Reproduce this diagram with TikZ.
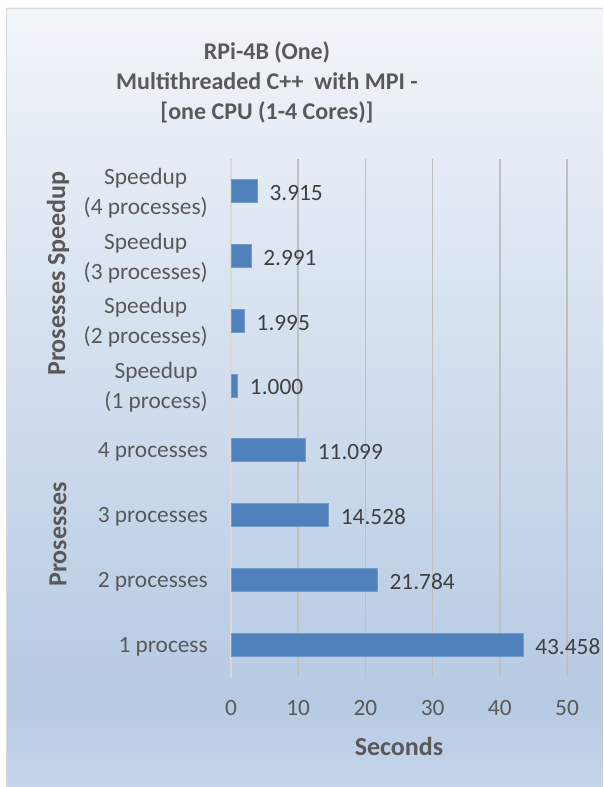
\documentclass[tikz,border=0pt]{standalone}
\usepackage{fontspec}
\setmainfont{Carlito}
\usetikzlibrary{positioning}
\definecolor{chartbar}{HTML}{4F81BD}
\definecolor{chartgrid}{HTML}{BFBFBF}
\definecolor{chartzero}{HTML}{D9D9D9}
\definecolor{chartframe}{HTML}{D9D9D9}
\definecolor{charttext}{HTML}{595959}
\definecolor{chartvalue}{HTML}{404040}
\definecolor{bgtop}{HTML}{F2F5FA}
\definecolor{bgmid}{HTML}{B6CAE3}
\definecolor{bgbot}{HTML}{C5D5EA}
\tikzset{
  catlabel/.style={
    anchor=east,
    inner sep=0pt,
    yshift=-1.5pt,
    align=center,
    text=charttext,
    font=\fontsize{17.5}{22.5}\selectfont
  },
  vallabel/.style={
    anchor=west,
    inner sep=0pt,
    yshift=-1.5pt,
    text=chartvalue,
    font=\fontsize{17.5}{21}\selectfont
  },
  ticklabel/.style={
    inner sep=0pt,
    text=charttext,
    font=\fontsize{17.5}{21}\selectfont
  },
  axistitle/.style={
    inner sep=0pt,
    text=charttext,
    font=\bfseries\fontsize{19.5}{23}\selectfont
  },
  charttitle/.style={
    inner sep=0pt,
    align=center,
    text=charttext,
    font=\bfseries\fontsize{18}{22.5}\selectfont
  },
  gridline/.style={
    draw=chartgrid,
    line width=1.1pt
  },
  barfill/.style={
    fill=chartbar,
    draw=chartbar!80!white,
    line width=0.5pt
  }
}

\begin{document}
\begin{tikzpicture}[x=0.75pt, y=0.75pt]
\useasboundingbox (0,0) rectangle (603,-787);
% chart area
\shade[top color=bgtop, bottom color=bgmid] (6,-8) rectangle (603,-700);
\shade[top color=bgmid, bottom color=bgbot] (6,-700) rectangle (603,-787);
\draw[chartframe, line width=1pt] (6.5,-787) -- (6.5,-8.5) -- (603,-8.5);

\node[charttitle] (title) at (267,-82) {RPi-4B (One)\\Multithreaded C++~ with MPI -\\{[}one CPU (1-4 Cores){]}};

% grid and ticks
\foreach \v in {10,20,30,40,50}
  \draw[gridline] ({231+6.72*\v},-159) -- ({231+6.72*\v},-677);
\draw[draw=chartzero, line width=1.1pt] (231,-159) -- (231,-677);
\foreach \v in {0,10,20,30,40,50}
  \node[ticklabel] (tick\v) at ({231+6.72*\v},-708) {\v};

% bars
\foreach \i/\val/\lab in {0/43.458/1 process,
                          1/21.784/2 processes,
                          2/14.528/3 processes,
                          3/11.099/4 processes,
                          4/1.000/{Speedup\\(1 process)},
                          5/1.995/{Speedup\\(2 processes)},
                          6/2.991/{Speedup\\(3 processes)},
                          7/3.915/{Speedup\\(4 processes)}}{
  \pgfmathsetmacro\yc{-644.5+64.75*\i}
  \pgfmathsetmacro\xe{231+6.72*\val}
  \draw[barfill] (231,\yc-11.5) rectangle (\xe,\yc+11.5);
  \node[vallabel] (val\i) at (\xe+12,\yc) {\val};
  \node[catlabel] (cat\i) at (208,\yc) {\lab};
}

% axis titles
\node[axistitle, rotate=90] (grpspeed) at (58,-273.5) {Prosesses Speedup};
\node[axistitle, rotate=90] (grpproc) at (58,-534.6) {Prosesses};
\node[axistitle] (xtitle) at (399,-746) {Seconds};
\end{tikzpicture}
\end{document}
